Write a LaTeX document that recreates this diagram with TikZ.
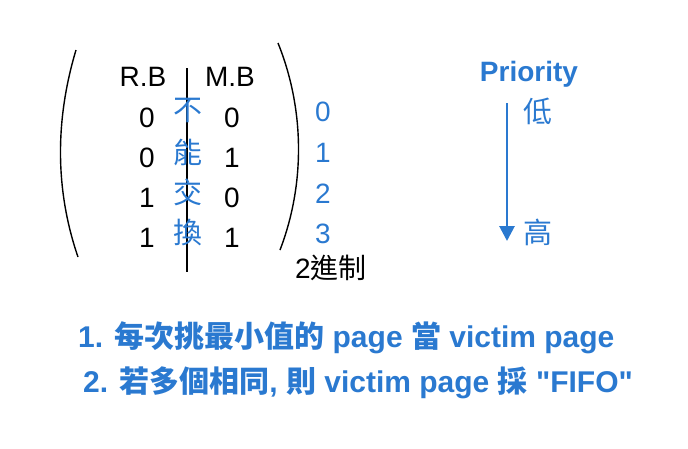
\documentclass[tikz,border=0pt]{standalone}
\usepackage{fontspec}
\setmainfont{Liberation Sans}
\newfontfamily\cjk{Noto Sans CJK TC}
\newfontfamily\notefont{Liberation Sans}[Ligatures=TeXOff]
\usetikzlibrary{arrows.meta}
\definecolor{myblue}{RGB}{42,121,208}
\tikzset{
  blk/.style={font=\fontsize{28}{30}\selectfont, text=black, inner sep=0pt},
  bl/.style={font=\fontsize{28}{30}\selectfont, text=myblue, inner sep=0pt},
  blc/.style={font=\fontsize{29}{30}\selectfont\cjk, text=myblue, inner sep=0pt},
  note/.style={font=\fontsize{30}{32}\selectfont\notefont\bfseries, text=myblue, inner sep=0pt, anchor=west},
  paren/.style={line width=1.4pt, black},
}
\begin{document}
\begin{tikzpicture}[x=1pt,y=-1pt]
\useasboundingbox (0,0) rectangle (688,448);
% parentheses
\draw[paren] (76,50) .. controls (55,120) and (55,190) .. (78,257);
\draw[paren] (278,43) .. controls (305,110) and (305,185) .. (280,250);
% vertical line
\coordinate (vt) at (187,68);
\coordinate (vb) at (187,272);
\draw[line width=2.4pt] (vt) -- (vb);
% headers
\node[blk] (rb) at (143,77) {R.B};
\node[blk] (mb) at (230,77) {M.B};
% rows
\node[blk] (r1) at (147,118) {0};
\node[blk] (r2) at (147,158) {0};
\node[blk] (r3) at (147,198) {1};
\node[blk] (r4) at (147,238) {1};
\node[blk] (m1) at (232,118) {0};
\node[blk] (m2) at (232,158) {1};
\node[blk] (m3) at (232,198) {0};
\node[blk] (m4) at (232,238) {1};
\node[blc] (c1) at (188,110) {不};
\node[blc] (c2) at (188,152) {能};
\node[blc] (c3) at (188,192) {交};
\node[blc] (c4) at (188,232) {換};
% blue numbers
\node[bl] (n0) at (323,112) {0};
\node[bl] (n1) at (323,153) {1};
\node[bl] (n2) at (323,194) {2};
\node[bl] (n3) at (323,234) {3};
\node[blk] (bin) at (331,268) {2{\cjk 進制}};
\node[bl, font=\fontsize{28}{30}\selectfont\bfseries] (pri) at (529,74) {Priority};
\coordinate (at) at (507,103);
\coordinate (ab) at (507,241);
\draw[myblue, line width=2.8pt, -{Triangle[width=15pt,length=15pt]}] (at) -- (ab);
\node[blc] (low) at (538,111) {低};
\node[blc] (high) at (538,232) {高};
% notes
\node[note] (l1) at (78,338) {1. {\cjk 每次挑最小值的} page {\cjk 當} victim page};
\node[note] (l2) at (83,383) {2. {\cjk 若多個相同}, {\cjk 則} victim page {\cjk 採} "FIFO"};
\end{tikzpicture}
\end{document}
